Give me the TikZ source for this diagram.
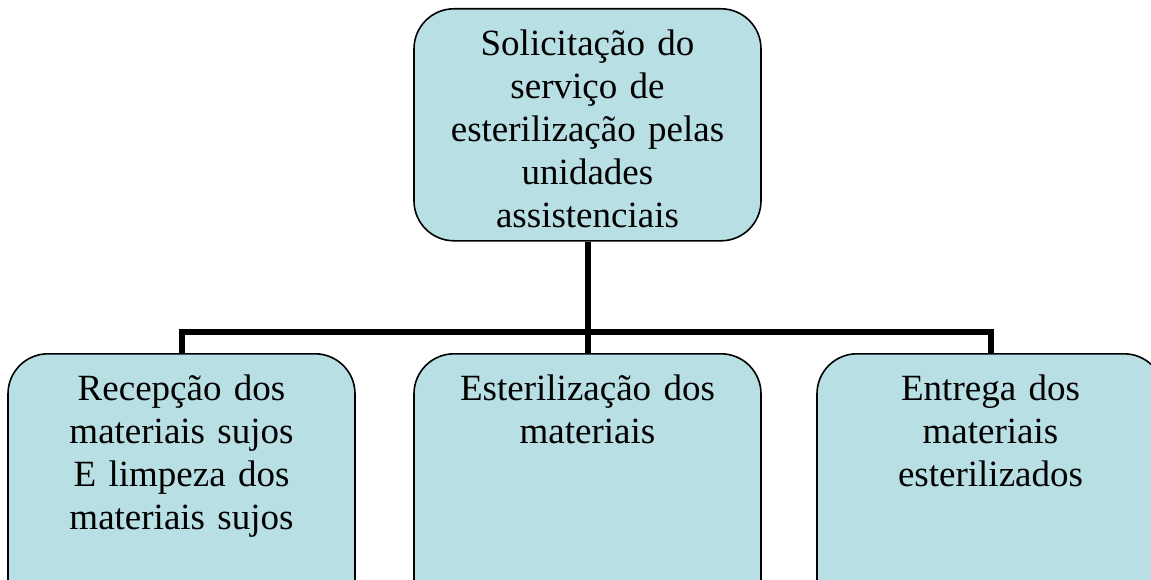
\documentclass[tikz,border=0pt]{standalone}
\usepackage{fontspec}
\setmainfont{Liberation Serif}
\usepackage{tikz}
\usetikzlibrary{backgrounds,calc}
\definecolor{caixaazul}{RGB}{184,223,227}

\begin{document}
\begin{tikzpicture}[x=1pt,y=1pt,
  caixa/.style={draw=black,line width=1.6pt,fill=caixaazul,rounded corners=40pt,
    minimum width=347pt,text width=327pt,inner xsep=10pt,inner ysep=0pt,align=center,
    anchor=north,text height=47pt,font=\fontsize{37}{43}\selectfont},
  ligacao/.style={draw=black,line width=6pt}]
\useasboundingbox (0,0) rectangle (1151,-580);
\clip (0,0) rectangle (1151,-580);
\node[caixa,text depth=185pt] (solic) at (587.5,-8) {Solicitação do\\ serviço de\\ esterilização pelas\\ unidades\\ assistenciais};
\node[caixa,text depth=240pt] (recep) at (181.5,-353) {Recepção dos\\ materiais sujos\\ E limpeza dos\\ materiais sujos};
\node[caixa,text depth=240pt] (ester) at (587.5,-353) {Esterilização dos\\ materiais};
\node[caixa,text depth=240pt] (entrega) at (990.5,-353) {Entrega dos\\ materiais\\ esterilizados};
\coordinate (barra) at ($(solic.south)+(0,-90)$);
\begin{scope}[on background layer]
\draw[ligacao] (solic.south) -- (barra);
\draw[ligacao] (recep.north) |- (barra) -| (entrega.north);
\draw[ligacao] (barra) -- (ester.north);
\end{scope}
\end{tikzpicture}
\end{document}
